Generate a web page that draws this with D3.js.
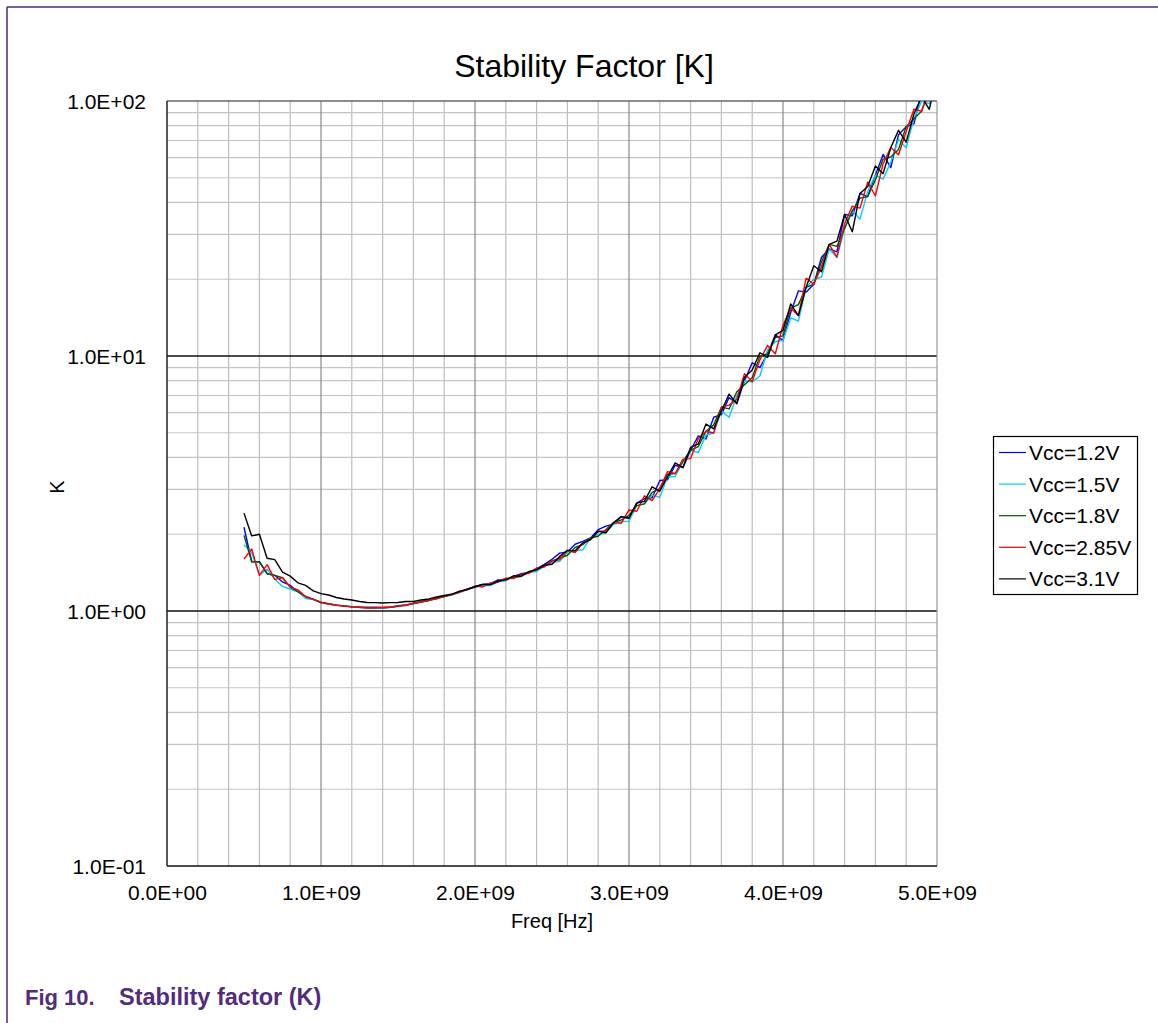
<!DOCTYPE html>
<html>
<head>
<meta charset="utf-8">
<script src="https://cdnjs.cloudflare.com/ajax/libs/d3/7.8.5/d3.min.js"></script>
<style>
	body { margin: 0; background: #fff; }
	text { font-family: "Liberation Sans", Arial, sans-serif; fill: #000; }
</style>
</head>
<body>
<div id="chart"></div>
<script>

	//Data -------------------------------------------------------------------------------------
	//sweep frequencies in GHz
	var freqGHz = [
		0.50,0.55,0.60,0.65,0.70,0.75,0.80,0.85,0.90,0.95,
		1.00,1.05,1.10,1.15,1.20,1.25,1.30,1.35,1.40,1.45,
		1.50,1.55,1.60,1.65,1.70,1.75,1.80,1.85,1.90,1.95,
		2.00,2.05,2.10,2.15,2.20,2.25,2.30,2.35,2.40,2.45,
		2.50,2.55,2.60,2.65,2.70,2.75,2.80,2.85,2.90,2.95,
		3.00,3.05,3.10,3.15,3.20,3.25,3.30,3.35,3.40,3.45,
		3.50,3.55,3.60,3.65,3.70,3.75,3.80,3.85,3.90,3.95,
		4.00,4.05,4.10,4.15,4.20,4.25,4.30,4.35,4.40,4.45,
		4.50,4.55,4.60,4.65,4.70,4.75,4.80,4.85,4.90,4.95,
		5.00
	];

	//K for each supply voltage
	var k12 = [
		2.13,1.56,1.56,1.40,1.38,1.30,1.26,1.19,1.14,1.11,
		1.080,1.069,1.055,1.047,1.036,1.035,1.032,1.034,1.030,1.035,
		1.049,1.055,1.070,1.089,1.100,1.124,1.140,1.165,1.185,1.220,
		1.245,1.272,1.279,1.323,1.324,1.363,1.402,1.416,1.464,1.524,
		1.595,1.686,1.704,1.827,1.875,1.934,2.085,2.152,2.188,2.346,
		2.31,2.65,2.76,2.78,3.25,3.27,3.73,3.65,4.27,4.86,
		4.73,5.75,5.89,6.87,6.51,7.99,9.41,9.01,10.2,12.1,
		11.5,14.8,18.0,17.8,19.1,24.4,26.3,25.6,35.9,35.5,
		43.4,42.2,51.2,61.7,54.8,73.7,79.3,81.3,108,107,
		131
	];
	var k15 = [
		1.82,1.69,1.38,1.46,1.33,1.25,1.22,1.19,1.12,1.11,
		1.076,1.065,1.051,1.047,1.040,1.031,1.032,1.030,1.026,1.035,
		1.041,1.055,1.066,1.085,1.100,1.116,1.140,1.155,1.185,1.215,
		1.235,1.262,1.259,1.302,1.313,1.363,1.369,1.416,1.429,1.500,
		1.549,1.565,1.704,1.722,1.738,1.934,1.995,2.026,2.188,2.244,
		2.25,2.59,2.63,2.85,2.79,3.36,3.37,3.85,4.27,4.18,
		4.90,4.99,6.09,5.75,7.00,7.99,7.92,8.35,10.6,11.4,
		11.5,14.1,13.7,18.6,20.0,20.4,26.3,24.4,31.6,37.1,
		34.4,44.2,51.2,49.4,57.6,70.7,65.6,85.1,99.8,97.6,
		120
	];
	var k18 = [
		1.98,1.56,1.56,1.40,1.38,1.35,1.24,1.19,1.14,1.11,
		1.080,1.065,1.055,1.047,1.040,1.035,1.032,1.030,1.030,1.035,
		1.045,1.055,1.070,1.085,1.100,1.120,1.140,1.160,1.185,1.215,
		1.245,1.272,1.269,1.302,1.335,1.352,1.369,1.427,1.452,1.500,
		1.572,1.613,1.654,1.774,1.820,1.934,1.965,2.089,2.221,2.278,
		2.37,2.59,2.63,2.92,3.02,3.44,3.46,3.85,4.27,4.41,
		5.07,5.37,6.30,6.20,7.24,7.72,8.21,9.99,10.2,11.8,
		12.0,15.4,15.9,18.6,19.1,23.4,27.4,26.9,31.6,37.1,
		41.6,42.2,49.0,59.2,60.3,64.6,79.3,85.1,91.2,112,
		120
	];
	var k285 = [
		1.60,1.75,1.38,1.52,1.33,1.35,1.24,1.21,1.14,1.11,
		1.084,1.065,1.055,1.043,1.040,1.035,1.028,1.030,1.034,1.035,
		1.045,1.051,1.074,1.085,1.104,1.116,1.145,1.160,1.190,1.210,
		1.255,1.242,1.289,1.302,1.345,1.341,1.391,1.405,1.475,1.488,
		1.572,1.589,1.729,1.696,1.847,1.905,2.055,2.058,2.221,2.210,
		2.49,2.46,2.83,2.71,3.02,3.52,3.46,3.94,3.96,4.75,
		5.07,4.99,6.30,6.42,6.75,8.53,7.92,9.66,11.0,10.2,
		13.2,15.4,14.4,20.2,19.1,22.4,27.4,24.4,33.0,38.7,
		38.0,48.1,42.4,56.8,65.7,61.5,75.9,92.8,91.2,112,
		126
	];
	var k31 = [
		2.42,1.97,2.00,1.61,1.59,1.42,1.37,1.29,1.26,1.20,
		1.170,1.155,1.130,1.115,1.104,1.090,1.080,1.079,1.075,1.079,
		1.080,1.089,1.090,1.104,1.115,1.135,1.150,1.165,1.195,1.215,
		1.245,1.272,1.269,1.312,1.324,1.374,1.369,1.427,1.452,1.512,
		1.526,1.637,1.729,1.722,1.847,1.905,2.055,2.026,2.221,2.346,
		2.31,2.65,2.69,3.07,2.95,3.36,3.81,3.65,4.38,4.52,
		5.41,5.18,6.09,7.09,6.51,8.26,8.81,10.3,9.87,12.1,
		12.6,16.0,14.4,18.6,22.6,21.4,27.4,28.2,35.9,30.7,
		43.4,46.2,55.6,51.9,65.7,76.7,69.0,88.9,104,92.7,
		126
	];

	var seriesNames = ["Vcc=1.2V", "Vcc=1.5V", "Vcc=1.8V", "Vcc=2.85V", "Vcc=3.1V"];
	var seriesValues = [k12, k15, k18, k285, k31];
	var seriesColors = ["#0000ff", "#00ccff", "#005a00", "#ff0000", "#000000"];

	var xTicks = [0, 1e9, 2e9, 3e9, 4e9, 5e9];
	var yTicks = [0.1, 1, 10, 100];

	//Sizes ------------------------------------------------------------------------------------
	var w = 1158;
	var h = 1023;

	var plotLeft = 167;
	var plotRight = 937;
	var plotTop = 101;
	var plotBottom = 866;

	var svg = d3.select("#chart")
				.append("svg")
				.attr("width", w)
				.attr("height", h);

	var x = d3.scaleLinear().domain([0, 5e9]).range([plotLeft, plotRight]);
	var y = d3.scaleLog().domain([0.1, 100]).range([plotBottom, plotTop]);

	//excel style number format, 1.0E+09
	function sci(v) {
		if (v === 0) return "0.0E+00";
		var e = Math.floor(Math.log10(v) + 1e-9);
		var m = v / Math.pow(10, e);
		var ee = Math.abs(e) < 10 ? "0" + Math.abs(e) : "" + Math.abs(e);
		return m.toFixed(1) + "E" + (e < 0 ? "-" : "+") + ee;
	}

	//outer frame (only top and left visible)
	svg.append("line").attr("x1", 7).attr("y1", 7).attr("x2", w).attr("y2", 7)
	   .attr("stroke", "#4b2a78").attr("stroke-width", 1.5);
	svg.append("line").attr("x1", 7).attr("y1", 7).attr("x2", 7).attr("y2", h)
	   .attr("stroke", "#4b2a78").attr("stroke-width", 1.5);

	//Grid -------------------------------------------------------------------------------------
	var minorX = d3.range(0, 5e9 + 1, 0.2e9).filter(function(d) { return Math.round(d / 1e9 * 5) % 5 != 0; });
	var minorY = [];
	[0.1, 1, 10].forEach(function(dec) {
		for (var m = 2; m <= 9; m++) minorY.push(dec * m);
	});

	var grid = svg.append("g");

	grid.selectAll(".mx")
		.data(minorX)
		.enter()
		.append("line")
		.attr("x1", function(d) { return x(d); })
		.attr("x2", function(d) { return x(d); })
		.attr("y1", plotTop)
		.attr("y2", plotBottom)
		.attr("stroke", "#bdbdbd")
		.attr("stroke-width", 1.2);

	grid.selectAll(".my")
		.data(minorY)
		.enter()
		.append("line")
		.attr("x1", plotLeft)
		.attr("x2", plotRight)
		.attr("y1", function(d) { return y(d); })
		.attr("y2", function(d) { return y(d); })
		.attr("stroke", "#c4c4c4")
		.attr("stroke-width", 1.2);

	grid.selectAll(".Mx")
		.data(xTicks.slice(1, 5))
		.enter()
		.append("line")
		.attr("x1", function(d) { return x(d); })
		.attr("x2", function(d) { return x(d); })
		.attr("y1", plotTop)
		.attr("y2", plotBottom)
		.attr("stroke", "#8a8a8a")
		.attr("stroke-width", 1.2);

	grid.selectAll(".My")
		.data([1, 10])
		.enter()
		.append("line")
		.attr("x1", plotLeft)
		.attr("x2", plotRight)
		.attr("y1", function(d) { return y(d); })
		.attr("y2", function(d) { return y(d); })
		.attr("stroke", "#111")
		.attr("stroke-width", 1.3);

	//plot border
	grid.append("line").attr("x1", plotLeft).attr("x2", plotRight).attr("y1", plotTop).attr("y2", plotTop)
		.attr("stroke", "#666").attr("stroke-width", 1.5);
	grid.append("line").attr("x1", plotRight).attr("x2", plotRight).attr("y1", plotTop).attr("y2", plotBottom)
		.attr("stroke", "#999").attr("stroke-width", 1.2);
	grid.append("line").attr("x1", plotLeft).attr("x2", plotRight).attr("y1", plotBottom).attr("y2", plotBottom)
		.attr("stroke", "#111").attr("stroke-width", 1.5);
	grid.append("line").attr("x1", plotLeft).attr("x2", plotLeft).attr("y1", plotTop).attr("y2", plotBottom)
		.attr("stroke", "#222").attr("stroke-width", 1.5);

	//Axes -------------------------------------------------------------------------------------
	var xAxis = d3.axisBottom(x).tickValues(xTicks).tickFormat(sci).tickSize(0).tickPadding(0);
	var gx = svg.append("g").attr("transform", "translate(0," + plotBottom + ")").call(xAxis);
	gx.select(".domain").remove();
	gx.selectAll("text")
	  .attr("y", 34)
	  .attr("dy", 0)
	  .attr("font-size", 21)
	  .attr("font-family", "Liberation Sans, Arial, sans-serif")
	  .attr("fill", "#000");

	var yAxis = d3.axisLeft(y).tickValues(yTicks).tickFormat(sci).tickSize(0).tickPadding(0);
	var gy = svg.append("g").attr("transform", "translate(" + plotLeft + ",0)").call(yAxis);
	gy.select(".domain").remove();
	gy.selectAll("text")
	  .attr("x", -21)
	  .attr("dy", "0.36em")
	  .attr("font-size", 21)
	  .attr("font-family", "Liberation Sans, Arial, sans-serif")
	  .attr("fill", "#000");

	//titles
	svg.append("text")
	   .attr("x", 584)
	   .attr("y", 77)
	   .attr("text-anchor", "middle")
	   .attr("font-size", 32)
	   .text("Stability Factor [K]");

	svg.append("text")
	   .attr("x", 552)
	   .attr("y", 928)
	   .attr("text-anchor", "middle")
	   .attr("font-size", 20)
	   .text("Freq [Hz]");

	svg.append("text")
	   .attr("transform", "translate(64,487) rotate(-90)")
	   .attr("text-anchor", "middle")
	   .attr("font-size", 20)
	   .text("K");

	//Lines ------------------------------------------------------------------------------------
	svg.append("clipPath").attr("id", "plotClip")
	   .append("rect")
	   .attr("x", plotLeft).attr("y", plotTop)
	   .attr("width", plotRight - plotLeft).attr("height", plotBottom - plotTop);

	var line = d3.line()
				 .x(function(d, i) { return x(freqGHz[i] * 1e9); })
				 .y(function(d) { return y(d); });

	svg.append("g")
	   .attr("clip-path", "url(#plotClip)")
	   .selectAll("path")
	   .data(seriesValues)
	   .enter()
	   .append("path")
	   .attr("d", function(d) { return line(d); })
	   .attr("fill", "none")
	   .attr("stroke", function(d, i) { return seriesColors[i]; })
	   .attr("stroke-width", 1.4)
	   .attr("stroke-linejoin", "round");

	//Legend -----------------------------------------------------------------------------------
	var legend = svg.append("g");
	legend.append("rect")
		  .attr("x", 993.5).attr("y", 436.5)
		  .attr("width", 144).attr("height", 158)
		  .attr("fill", "#fff").attr("stroke", "#000").attr("stroke-width", 1.2);

	var items = legend.selectAll(".item")
					  .data(seriesNames)
					  .enter()
					  .append("g")
					  .attr("transform", function(d, i) { return "translate(0," + (452.5 + i * 31.6) + ")"; });

	items.append("line")
		 .attr("x1", 999).attr("x2", 1026).attr("y1", 0).attr("y2", 0)
		 .attr("stroke", function(d, i) { return seriesColors[i]; })
		 .attr("stroke-width", 1.2);

	items.append("text")
		 .attr("x", 1029)
		 .attr("dy", "0.36em")
		 .attr("font-size", 21)
		 .text(function(d) { return d; });

	//Caption ----------------------------------------------------------------------------------
	var cap = svg.append("text")
				 .attr("y", 1005)
				 .attr("font-weight", "bold")
				 .style("fill", "#522c7e");
	cap.append("tspan").attr("x", 25).attr("font-size", 22).text("Fig 10.");
	cap.append("tspan").attr("x", 119).attr("font-size", 23.5).text("Stability factor (K)");

</script>
</body>
</html>
